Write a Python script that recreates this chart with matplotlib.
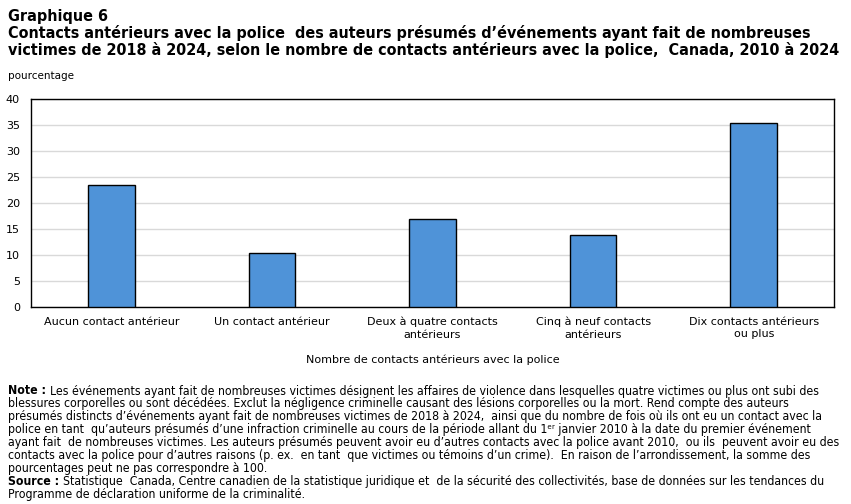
import matplotlib
matplotlib.use("Agg")
import matplotlib.pyplot as plt
import numpy as np

# categories and values (pourcentage)
categories = ["Aucun contact antérieur", "Un contact antérieur",
              "Deux à quatre contacts\nantérieurs", "Cinq à neuf contacts\nantérieurs",
              "Dix contacts antérieurs\nou plus"]
values = [23.4, 10.4, 16.9, 13.8, 35.3]
yticks = [0, 5, 10, 15, 20, 25, 30, 35, 40]

title_lines = ["Graphique 6",
               "Contacts antérieurs avec la police  des auteurs présumés d’événements ayant fait de nombreuses",
               "victimes de 2018 à 2024, selon le nombre de contacts antérieurs avec la police,  Canada, 2010 à 2024"]

note_lines = [
    "Les événements ayant fait de nombreuses victimes désignent les affaires de violence dans lesquelles quatre victimes ou plus ont subi des",
    "blessures corporelles ou sont décédées. Exclut la négligence criminelle causant des lésions corporelles ou la mort. Rend compte des auteurs",
    "présumés distincts d’événements ayant fait de nombreuses victimes de 2018 à 2024,  ainsi que du nombre de fois où ils ont eu un contact avec la",
    "police en tant  qu’auteurs présumés d’une infraction criminelle au cours de la période allant du 1ᵉʳ janvier 2010 à la date du premier événement",
    "ayant fait  de nombreuses victimes. Les auteurs présumés peuvent avoir eu d’autres contacts avec la police avant 2010,  ou ils  peuvent avoir eu des",
    "contacts avec la police pour d’autres raisons (p. ex.  en tant  que victimes ou témoins d’un crime).  En raison de l’arrondissement, la somme des",
    "pourcentages peut ne pas correspondre à 100.",
]
source_lines = [
    "Statistique  Canada, Centre canadien de la statistique juridique et  de la sécurité des collectivités, base de données sur les tendances du",
    "Programme de déclaration uniforme de la criminalité.",
]

W, H = 851, 504
fig = plt.figure(figsize=(W / 100, H / 100), dpi=100)
cond = dict(family="DejaVu Sans", stretch="condensed")

def fy(py):
    return 1 - py / H

# title
fig.text(8 / W, fy(16), title_lines[0], fontsize=11.5, fontweight="bold", va="center", **cond)
fig.text(8 / W, fy(33), title_lines[1], fontsize=11.5, fontweight="bold", va="center", **cond)
fig.text(8 / W, fy(50), title_lines[2], fontsize=11.5, fontweight="bold", va="center", **cond)
fig.text(8 / W, fy(76), "pourcentage", fontsize=7.5, va="center")

ax = fig.add_axes([31 / W, 1 - 307 / H, (834 - 31) / W, (307 - 99) / H])
x = np.arange(len(categories))
ax.bar(x, values, width=0.29, color="#4F93D8", edgecolor="black", linewidth=1, zorder=3)
ax.set_xlim(-0.5, len(categories) - 0.5)
ax.set_ylim(0, 40)
ax.set_yticks(yticks)
ax.set_yticklabels([str(t) for t in yticks], fontsize=8)
ax.set_xticks(x)
ax.set_xticklabels(categories, fontsize=8, linespacing=1.3)
ax.tick_params(axis="both", length=0)
ax.tick_params(axis="x", pad=7)
ax.tick_params(axis="y", pad=8)
ax.grid(axis="y", color="#d9d9d9", linewidth=1, zorder=0)
for s in ax.spines.values():
    s.set_color("black")
    s.set_linewidth(1)
ax.set_xlabel("Nombre de contacts antérieurs avec la police", fontsize=8, labelpad=11)

# notes
renderer = fig.canvas.get_renderer()
y0 = 391
step = 12.9
fs = 8.85
t = fig.text(8 / W, fy(y0), "Note :", fontsize=fs, fontweight="bold", va="center", **cond)
wb = t.get_window_extent(renderer).width
for i, line in enumerate(note_lines):
    xx = (8 + wb + 4) / W if i == 0 else 8 / W
    fig.text(xx, fy(y0 + i * step), line, fontsize=fs, va="center", **cond)
ys = y0 + len(note_lines) * step
t = fig.text(8 / W, fy(ys), "Source :", fontsize=fs, fontweight="bold", va="center", **cond)
wb = t.get_window_extent(renderer).width
for i, line in enumerate(source_lines):
    xx = (8 + wb + 4) / W if i == 0 else 8 / W
    fig.text(xx, fy(ys + i * step), line, fontsize=fs, va="center", **cond)

fig.savefig("out.png", dpi=100)
